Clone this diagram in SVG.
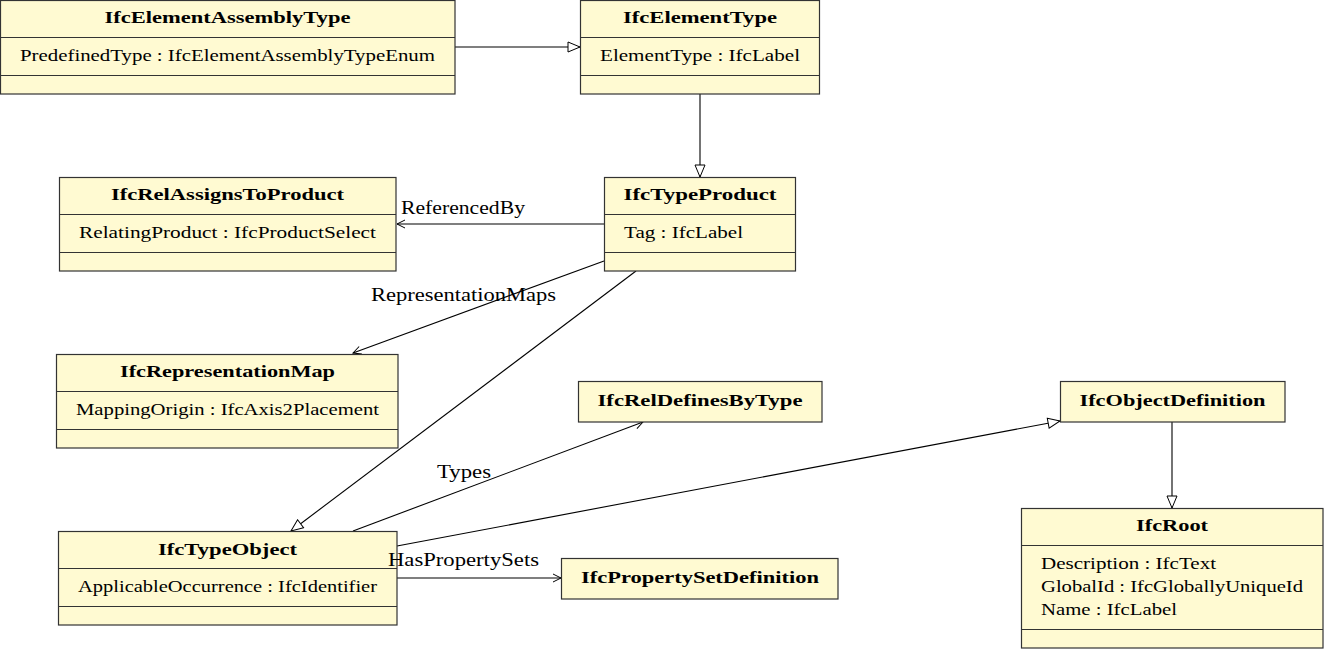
<svg xmlns="http://www.w3.org/2000/svg" width="1324" height="649" viewBox="0 0 1324 649">
  <style>
    .box { fill: #fffad2; stroke: #333333; stroke-width: 1.2; }
    .sep { stroke: #333333; stroke-width: 1.2; }
    .title { font-family: "Liberation Serif", "DejaVu Serif", serif; font-weight: bold; font-size: 17px; fill: #000; text-anchor: middle; }
    .attr { font-family: "Liberation Serif", "DejaVu Serif", serif; font-size: 17px; fill: #000; }
    .lbl { font-family: "Liberation Serif", "DejaVu Serif", serif; font-size: 18px; fill: #000; }
    .edge { fill: none; stroke: #000; stroke-width: 1.1; }
    .gen { marker-end: url(#hollow); }
    .assoc { marker-end: url(#open); }
  </style>
  <defs>
    <marker id="hollow" viewBox="0 0 14 12" refX="13" refY="6" markerWidth="14" markerHeight="12" markerUnits="userSpaceOnUse" orient="auto">
      <path d="M1,1 L13,6 L1,11 Z" fill="#fff" stroke="#000" stroke-width="1"/>
    </marker>
    <marker id="open" viewBox="0 0 10 10" refX="9" refY="5" markerWidth="10" markerHeight="10" markerUnits="userSpaceOnUse" orient="auto">
      <path d="M1,1 L9,5 L1,9" fill="none" stroke="#000" stroke-width="1"/>
    </marker>
  </defs>

  <!-- connectors -->
  <g id="connectors">
    <line class="edge gen" x1="455" y1="47" x2="580" y2="47"/>
    <line class="edge gen" x1="700" y1="94" x2="700" y2="177"/>
    <line class="edge assoc" x1="604" y1="224" x2="397" y2="224"/>
    <line class="edge assoc" x1="604" y1="261" x2="353" y2="353"/>
    <line class="edge gen" x1="636" y1="271" x2="291" y2="531"/>
    <line class="edge assoc" x1="353" y1="531" x2="643" y2="422"/>
    <line class="edge gen" x1="397" y1="546" x2="1060" y2="421"/>
    <line class="edge assoc" x1="397" y1="578" x2="561" y2="578"/>
    <line class="edge gen" x1="1172" y1="422" x2="1172" y2="508"/>
  </g>

  <g id="IfcElementAssemblyType">
    <rect class="box" x="0.5" y="0.5" width="454.5" height="93.5"/>
    <line class="sep" x1="0" y1="37.5" x2="455" y2="37.5"/>
    <line class="sep" x1="0" y1="75.5" x2="455" y2="75.5"/>
    <text class="title" x="227.5" y="23" textLength="246" lengthAdjust="spacingAndGlyphs">IfcElementAssemblyType</text>
    <text class="attr" x="20" y="61" textLength="415" lengthAdjust="spacingAndGlyphs">PredefinedType : IfcElementAssemblyTypeEnum</text>
  </g>

  <g id="IfcElementType">
    <rect class="box" x="580.5" y="0.5" width="239" height="93.5"/>
    <line class="sep" x1="580" y1="37.5" x2="820" y2="37.5"/>
    <line class="sep" x1="580" y1="75.5" x2="820" y2="75.5"/>
    <text class="title" x="700" y="23" textLength="154" lengthAdjust="spacingAndGlyphs">IfcElementType</text>
    <text class="attr" x="600" y="61" textLength="200" lengthAdjust="spacingAndGlyphs">ElementType : IfcLabel</text>
  </g>

  <g id="IfcTypeProduct">
    <rect class="box" x="604.5" y="177.5" width="191" height="93.5"/>
    <line class="sep" x1="604" y1="214.5" x2="796" y2="214.5"/>
    <line class="sep" x1="604" y1="252.5" x2="796" y2="252.5"/>
    <text class="title" x="700" y="200" textLength="153" lengthAdjust="spacingAndGlyphs">IfcTypeProduct</text>
    <text class="attr" x="624" y="238" textLength="119" lengthAdjust="spacingAndGlyphs">Tag : IfcLabel</text>
  </g>

  <g id="IfcRelAssignsToProduct">
    <rect class="box" x="59.5" y="177.5" width="336.5" height="93.5"/>
    <line class="sep" x1="59" y1="214.5" x2="396" y2="214.5"/>
    <line class="sep" x1="59" y1="252.5" x2="396" y2="252.5"/>
    <text class="title" x="227.5" y="200" textLength="233" lengthAdjust="spacingAndGlyphs">IfcRelAssignsToProduct</text>
    <text class="attr" x="79" y="238" textLength="297" lengthAdjust="spacingAndGlyphs">RelatingProduct : IfcProductSelect</text>
  </g>

  <g id="IfcRepresentationMap">
    <rect class="box" x="56.5" y="354.5" width="341.5" height="93.5"/>
    <line class="sep" x1="56" y1="391.5" x2="398" y2="391.5"/>
    <line class="sep" x1="56" y1="429.5" x2="398" y2="429.5"/>
    <text class="title" x="227.5" y="377" textLength="215" lengthAdjust="spacingAndGlyphs">IfcRepresentationMap</text>
    <text class="attr" x="76" y="415" textLength="303" lengthAdjust="spacingAndGlyphs">MappingOrigin : IfcAxis2Placement</text>
  </g>

  <g id="IfcRelDefinesByType">
    <rect class="box" x="578.5" y="381.5" width="243.5" height="40.5"/>
    <text class="title" x="700" y="406" textLength="205" lengthAdjust="spacingAndGlyphs">IfcRelDefinesByType</text>
  </g>

  <g id="IfcObjectDefinition">
    <rect class="box" x="1060.5" y="381.5" width="224.5" height="40.5"/>
    <text class="title" x="1172.5" y="406" textLength="186" lengthAdjust="spacingAndGlyphs">IfcObjectDefinition</text>
  </g>

  <g id="IfcTypeObject">
    <rect class="box" x="58.5" y="531.5" width="338.5" height="93.5"/>
    <line class="sep" x1="58" y1="568.5" x2="397" y2="568.5"/>
    <line class="sep" x1="58" y1="606.5" x2="397" y2="606.5"/>
    <text class="title" x="227.5" y="555" textLength="139" lengthAdjust="spacingAndGlyphs">IfcTypeObject</text>
    <text class="attr" x="78" y="592" textLength="299" lengthAdjust="spacingAndGlyphs">ApplicableOccurrence : IfcIdentifier</text>
  </g>

  <g id="IfcPropertySetDefinition">
    <rect class="box" x="561.5" y="558.5" width="276.5" height="40.5"/>
    <text class="title" x="700" y="583" textLength="238" lengthAdjust="spacingAndGlyphs">IfcPropertySetDefinition</text>
  </g>

  <g id="IfcRoot">
    <rect class="box" x="1021.5" y="508.5" width="301.5" height="139.5"/>
    <line class="sep" x1="1021" y1="545.5" x2="1323" y2="545.5"/>
    <line class="sep" x1="1021" y1="629.5" x2="1323" y2="629.5"/>
    <text class="title" x="1172" y="531" textLength="72" lengthAdjust="spacingAndGlyphs">IfcRoot</text>
    <text class="attr" x="1041" y="569" textLength="175" lengthAdjust="spacingAndGlyphs">Description : IfcText</text>
    <text class="attr" x="1041" y="592" textLength="262" lengthAdjust="spacingAndGlyphs">GlobalId : IfcGloballyUniqueId</text>
    <text class="attr" x="1041" y="615" textLength="136" lengthAdjust="spacingAndGlyphs">Name : IfcLabel</text>
  </g>

  <!-- role names on the associations, drawn last so they sit above the boxes -->
  <g id="connector-labels">
    <text class="lbl" x="401" y="214" textLength="124" lengthAdjust="spacingAndGlyphs">ReferencedBy</text>
    <text class="lbl" x="371" y="301" textLength="185" lengthAdjust="spacingAndGlyphs">RepresentationMaps</text>
    <text class="lbl" x="437" y="478" textLength="54" lengthAdjust="spacingAndGlyphs">Types</text>
    <text class="lbl" x="388" y="566" textLength="151" lengthAdjust="spacingAndGlyphs">HasPropertySets</text>
  </g>
</svg>
